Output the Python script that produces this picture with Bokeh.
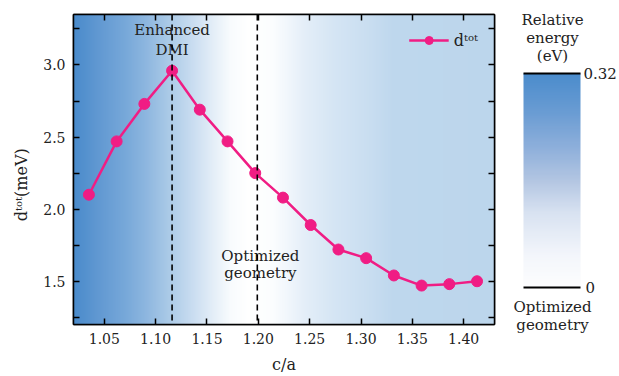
import numpy as np
from bokeh.plotting import figure
from bokeh.models import (Range1d, FixedTicker, LinearAxis, Span, Legend, LegendItem)
from bokeh.core.properties import value
from bokeh.embed import file_html
from bokeh.resources import INLINE

# ---------------- data ----------------
ca = [1.035, 1.062, 1.089, 1.116, 1.143, 1.170, 1.197, 1.224, 1.251,
      1.278, 1.305, 1.332, 1.359, 1.386, 1.413]
d_tot = [2.10, 2.47, 2.73, 2.96, 2.69, 2.47, 2.25, 2.08, 1.89,
         1.72, 1.66, 1.54, 1.47, 1.48, 1.50]

x_ticks = [1.05, 1.10, 1.15, 1.20, 1.25, 1.30, 1.35, 1.40]
y_ticks = [1.5, 2.0, 2.5, 3.0]
y_minor = [1.25, 1.75, 2.25, 2.75, 3.25]

enhanced_ca = 1.116
optimized_ca = 1.199

# background energy gradient colour stops (c/a, colour)
bg_pos = [1.02, 1.045, 1.07, 1.09, 1.11, 1.135, 1.157, 1.173, 1.19, 1.215,
          1.227, 1.245, 1.274, 1.31, 1.332, 1.43]
bg_col = ["#4a8bcb", "#6299d2", "#77a8d9", "#8db6df", "#a7c8e6", "#c8dcf0",
          "#e5eff8", "#f8fbfd", "#ffffff", "#fbfdfe",
          "#f2f7fc", "#e4eef8", "#d5e5f4", "#c8ddf0", "#bed7ed", "#bcd6ec"]

# colour bar stops (fraction from bottom, colour)
cb_pos = [0.0, 0.15, 0.35, 0.5, 0.65, 0.82, 1.0]
cb_col = ["#fdfdfe", "#f3f6fb", "#d8e2f1", "#b3c6e2", "#8fb0db", "#6a9cd3", "#4b8ccc"]

PINK = "#f01d84"
FONT = "DejaVu Serif"
TXT = "#222222"


def hex2rgb(h):
    h = h.lstrip("#")
    return [int(h[i:i + 2], 16) for i in (0, 2, 4)]


def gradient(pos, cols, grid):
    rgb = np.array([hex2rgb(c) for c in cols], dtype=float)
    out = np.empty((len(grid), 4), dtype=np.uint8)
    for k in range(3):
        out[:, k] = np.round(np.interp(grid, pos, rgb[:, k])).astype(np.uint8)
    out[:, 3] = 255
    return out


# ---------------- main figure ----------------
x0, x1 = 1.02, 1.43
y0, y1 = 1.2, 3.35
H = 376
TOP, BOT = 14, 49

p = figure(width=505, height=H, x_range=Range1d(x0, x1), y_range=Range1d(y0, y1),
           toolbar_location=None, output_backend="svg",
           min_border_left=73, min_border_right=11, min_border_top=TOP, min_border_bottom=BOT,
           background_fill_color="white", border_fill_color="white", name="main")
p.grid.visible = False
p.outline_line_color = "black"
p.outline_line_width = 1.5

grid = np.linspace(x0, x1, 420)
cols = gradient(bg_pos, bg_col, grid)
img = np.zeros((1, len(grid)), dtype=np.uint32)
view = img.view(dtype=np.uint8).reshape((1, len(grid), 4))
view[0, :, :] = cols
p.image_rgba(image=[img], x=x0, y=y0, dw=x1 - x0, dh=y1 - y0)


def style_axis(ax, show_labels=True):
    ax.axis_line_color = "black"
    ax.axis_line_width = 1.5
    ax.major_tick_line_color = "black"
    ax.major_tick_line_width = 1.5
    ax.minor_tick_line_color = "black"
    ax.minor_tick_line_width = 1.5
    ax.major_tick_in = 6
    ax.major_tick_out = 0
    ax.minor_tick_in = 6
    ax.minor_tick_out = 0
    ax.major_label_text_font = FONT
    ax.major_label_text_font_size = "14px"
    ax.major_label_text_color = TXT
    ax.axis_label_text_font = FONT
    ax.axis_label_text_font_style = "normal"
    ax.axis_label_text_color = TXT
    if not show_labels:
        ax.major_label_text_alpha = 0
        ax.major_label_text_font_size = "1px"


p.xaxis.ticker = FixedTicker(ticks=x_ticks)
p.yaxis.ticker = FixedTicker(ticks=y_ticks, minor_ticks=y_minor)
p.xaxis.major_label_overrides = {t: f"{t:.2f}" for t in x_ticks}
p.yaxis.major_label_overrides = {t: f"{t:.1f}" for t in y_ticks}
style_axis(p.xaxis[0])
style_axis(p.yaxis[0])
p.xaxis.axis_label = "c/a"
p.xaxis.axis_label_text_font_size = "16px"
p.xaxis.major_label_standoff = 8
p.xaxis.axis_label_standoff = 8
p.yaxis.axis_label = "d\u1d57\u1d52\u1d57(meV)" + "\u00a0" * 6
p.yaxis.axis_label_text_font_size = "16px"
p.yaxis.major_label_standoff = 8
p.yaxis.axis_label_standoff = 9

ax_top = LinearAxis(ticker=FixedTicker(ticks=x_ticks))
style_axis(ax_top, False)
p.add_layout(ax_top, "above")
ax_right = LinearAxis(ticker=FixedTicker(ticks=y_ticks, minor_ticks=y_minor))
style_axis(ax_right, False)
p.add_layout(ax_right, "right")

for loc in (enhanced_ca, optimized_ca):
    p.add_layout(Span(location=loc, dimension="height", line_color="black",
                      line_width=1.6, line_dash="6 4"))

p.text(x=[enhanced_ca, enhanced_ca], y=[3.24, 3.103], text=["Enhanced", "DMI"],
       text_font=value(FONT), text_font_size="15px", text_align="center",
       text_baseline="middle", text_color=TXT)
p.text(x=[1.202, 1.202], y=[1.678, 1.555], text=["Optimized", "geometry"],
       text_font=value(FONT), text_font_size="15px", text_align="center",
       text_baseline="middle", text_color=TXT)

line_r = p.line(ca, d_tot, line_color=PINK, line_width=2.5)
sc_r = p.scatter(ca, d_tot, size=11, fill_color=PINK, line_color=PINK)

legend = Legend(items=[LegendItem(label="d\u1d57\u1d52\u1d57", renderers=[line_r, sc_r])],
                location="top_right", background_fill_alpha=0, border_line_alpha=0,
                glyph_width=40, glyph_height=20, label_standoff=5,
                label_text_font=FONT, label_text_font_size="16px",
                label_text_color=TXT, margin=12, padding=4)
p.add_layout(legend)

# ---------------- colour bar figure (separate root, pixel-like coords) ----------------
W2 = 114
cb = figure(width=W2, height=H, x_range=Range1d(0, W2), y_range=Range1d(0, H),
            toolbar_location=None, output_backend="svg", min_border=0,
            min_border_left=0, min_border_right=0, min_border_top=0, min_border_bottom=0,
            x_axis_location=None, y_axis_location=None,
            background_fill_color="white", border_fill_color="white", name="cbar")
cb.grid.visible = False
cb.outline_line_color = None

bar_left, bar_right = 18, 75
bar_top_px, bar_bot_px = 73, 287
fr = np.linspace(0, 1, 200)
ccols = gradient(cb_pos, cb_col, fr)
cimg = np.zeros((len(fr), 1), dtype=np.uint32)
cview = cimg.view(dtype=np.uint8).reshape((len(fr), 1, 4))
cview[:, 0, :] = ccols
cb.image_rgba(image=[cimg], x=bar_left, y=H - bar_bot_px, dw=bar_right - bar_left,
              dh=bar_bot_px - bar_top_px)
cb.segment(x0=[bar_left, bar_left], y0=[H - bar_top_px, H - bar_bot_px],
           x1=[bar_right, bar_right], y1=[H - bar_top_px, H - bar_bot_px],
           line_color="black", line_width=2)
cb.text(x=[47, 47, 47], y=[H - 19, H - 37, H - 55], text=["Relative", "energy", "(eV)"],
        text_font=value(FONT), text_font_size="15px", text_align="center",
        text_baseline="middle", text_color=TXT)
cb.text(x=[78, 80], y=[H - bar_top_px, H - bar_bot_px], text=["0.32", "0"],
        text_font=value(FONT), text_font_size="15px", text_align="left",
        text_baseline="middle", text_color=TXT)
cb.text(x=[47, 47], y=[H - 306, H - 324], text=["Optimized", "geometry"],
        text_font=value(FONT), text_font_size="15px", text_align="center",
        text_baseline="middle", text_color=TXT)

# two independent roots placed side by side (no frame alignment between them)
TEMPLATE = """
{% block postamble %}
<style>
  body { margin: 0; }
  .side-by-side { display: flex; flex-direction: row; align-items: flex-start; }
</style>
{% endblock %}
{% block contents %}
<div class="side-by-side">
{{ embed(roots.main) }}
{{ embed(roots.cbar) }}
</div>
{% endblock %}
"""

open("out.html", "w").write(file_html([p, cb], INLINE, template=TEMPLATE))
